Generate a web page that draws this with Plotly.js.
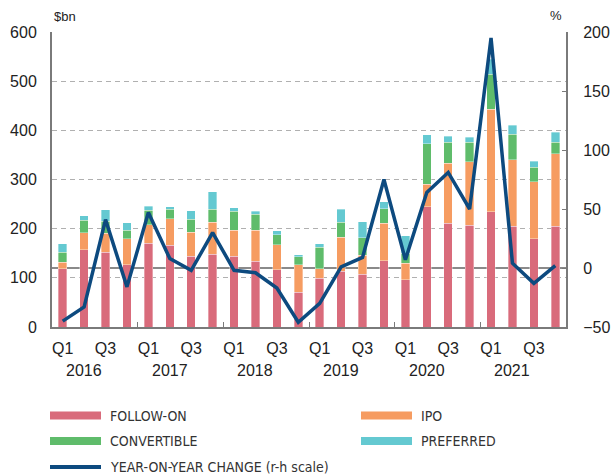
<!DOCTYPE html>
<html>
<head>
<meta charset="utf-8">
<script src="https://cdn.plot.ly/plotly-3.0.1.min.js"></script>
<style>html,body{margin:0;padding:0;background:#fff;}#chart{width:611px;height:476px;}</style>
</head>
<body>
<div id="chart"></div>
<script>
// ---- data ----
const quarters = ['2016 Q1','2016 Q2','2016 Q3','2016 Q4','2017 Q1','2017 Q2','2017 Q3','2017 Q4',
                  '2018 Q1','2018 Q2','2018 Q3','2018 Q4','2019 Q1','2019 Q2','2019 Q3','2019 Q4',
                  '2020 Q1','2020 Q2','2020 Q3','2020 Q4','2021 Q1','2021 Q2','2021 Q3','2021 Q4'];
const followOn    = [118,157,152,127,170,166,144,148,144,134,116,71,99,113,107,135,96,245,211,207,234,205,180,205];
const ipo         = [14,35,39,53,38,54,49,65,53,63,51,56,19,70,39,76,34,45,122,129,209,135,115,147];
const convertible = [20,25,24,17,29,19,26,26,38,32,21,16,44,30,36,30,20,83,43,40,71,52,30,24];
const preferred   = [17,9,23,15,9,6,17,36,8,6,8,4,7,27,32,14,36,18,12,10,31,18,12,20];
const yoyChange   = [-45,-33,41,-16,47,8,-2,30,-2,-4,-17,-46,-30,1,9,75,7,64,81,50,195,4,-13,2];
const years = ['2016','2017','2018','2019','2020','2021'];
const quarterTickLabels = ['Q1','Q3'];
const seriesNames = ['FOLLOW-ON','IPO','CONVERTIBLE','PREFERRED','YEAR-ON-YEAR CHANGE (r-h scale)'];
const yTicksLeft = [0,100,200,300,400,500,600];
const yTicksRight = [-50,0,50,100,150,200];

// ---- styling ----
const colors = ['#D96B7B','#F69C61','#5FBC6B','#64C9D1','#0D4A7F'];
const W = 611, H = 476;
const M = {l:52, r:45, t:32, b:149};
const pw = W - M.l - M.r, ph = H - M.t - M.b;
const px2x = p => (p - M.l) / pw;
const px2y = p => (H - M.b - p) / ph;
const font = 'Liberation Sans, Arial, sans-serif';
const narrow = 'Liberation Sans Narrow, DejaVu Sans Condensed, Arial Narrow, sans-serif';

const xIdx = quarters.map((q, i) => i);
const barSeries = [followOn, ipo, convertible, preferred];

const traces = barSeries.map((vals, k) => ({
  type: 'bar', x: xIdx, y: vals, name: seriesNames[k],
  marker: {color: colors[k], line: {color: 'rgba(255,255,255,0.7)', width: 0.5}},
  showlegend: false, hoverinfo: 'skip'
}));
traces.push({
  type: 'scatter', mode: 'lines', x: xIdx, y: yoyChange, yaxis: 'y2',
  name: seriesNames[4], line: {color: colors[4], width: 3.5, shape: 'linear'},
  showlegend: false, hoverinfo: 'skip'
});

// Q1/Q3 tick positions and year boundaries from the quarter list
const qTickVals = [], qTickText = [], yearBounds = [];
quarters.forEach((q, i) => {
  const qq = q.split(' ')[1];
  if (quarterTickLabels.includes(qq)) { qTickVals.push(i); qTickText.push(qq); }
  if (qq === 'Q4' && i < quarters.length - 1) yearBounds.push(i + 0.5);
});

const annotations = [];
const shapes = [];
// year labels beneath the Q2 position of each year
years.forEach(y => {
  const i = quarters.indexOf(y + ' Q2');
  annotations.push({x: i, xref: 'x', y: px2y(370), yref: 'paper', text: y, showarrow: false,
    xanchor: 'center', yanchor: 'middle', font: {family: font, size: 16, color: '#222'}});
});
// axis unit labels
annotations.push({x: px2x(52), xref: 'paper', y: px2y(17), yref: 'paper', text: '$bn', showarrow: false,
  xanchor: 'left', yanchor: 'middle', font: {family: font, size: 13, color: '#222'}});
annotations.push({x: px2x(556), xref: 'paper', y: px2y(16), yref: 'paper', text: '%', showarrow: false,
  xanchor: 'center', yanchor: 'middle', font: {family: font, size: 13, color: '#222'}});

// custom legend
const legendPos = [[50,415.5],[361,415.5],[50,441],[361,441],[50,467]];
seriesNames.forEach((nm, k) => {
  const [lx, ly] = legendPos[k];
  const hh = k === 4 ? 2 : 4;
  shapes.push({type: 'rect', xref: 'paper', yref: 'paper', x0: px2x(lx), x1: px2x(lx + 51),
    y0: px2y(ly - hh), y1: px2y(ly + hh), fillcolor: colors[k], line: {width: 0}});
  annotations.push({x: px2x(lx + 58), xref: 'paper', y: px2y(ly), yref: 'paper', text: nm, showarrow: false,
    xanchor: 'left', yanchor: 'middle', font: {family: narrow, size: 14, color: '#333'}});
});

const layout = {
  width: W, height: H, margin: M, paper_bgcolor: '#fff', plot_bgcolor: '#fff',
  barmode: 'stack', bargap: 0.6, showlegend: false, hovermode: false,
  font: {family: font, size: 16, color: '#222'},
  xaxis: {range: [-0.5, quarters.length - 0.5], tickmode: 'array', tickvals: qTickVals, ticktext: qTickText,
    ticks: '', showgrid: false, zeroline: false, showline: true, linecolor: '#7a7a7a', linewidth: 2,
    tickfont: {family: font, size: 16, color: '#222'}, ticklabelstandoff: 6,
    minor: {tickmode: 'array', tickvals: yearBounds, ticks: 'inside', ticklen: 5, tickcolor: '#7a7a7a', tickwidth: 1, showgrid: false}},
  yaxis: {range: [0, 600], tickmode: 'array', tickvals: yTicksLeft, ticks: '', showgrid: true,
    gridcolor: '#b0b0b0', gridwidth: 1, griddash: '5px,4px', zeroline: false, showline: true,
    linecolor: '#7a7a7a', linewidth: 2, tickfont: {family: font, size: 16, color: '#222'}, ticklabelstandoff: 10},
  yaxis2: {range: [-50, 200], overlaying: 'y', side: 'right', tickmode: 'array', tickvals: yTicksRight,
    ticks: 'inside', ticklen: 4, tickcolor: '#7a7a7a', showgrid: false, zeroline: true, zerolinecolor: '#8a8a8a',
    zerolinewidth: 1.5, showline: true, linecolor: '#7a7a7a', linewidth: 2,
    tickfont: {family: font, size: 16, color: '#222'}, ticklabelstandoff: 12},
  annotations: annotations, shapes: shapes
};

Plotly.newPlot('chart', traces, layout, {displayModeBar: false, staticPlot: true});
</script>
</body>
</html>
